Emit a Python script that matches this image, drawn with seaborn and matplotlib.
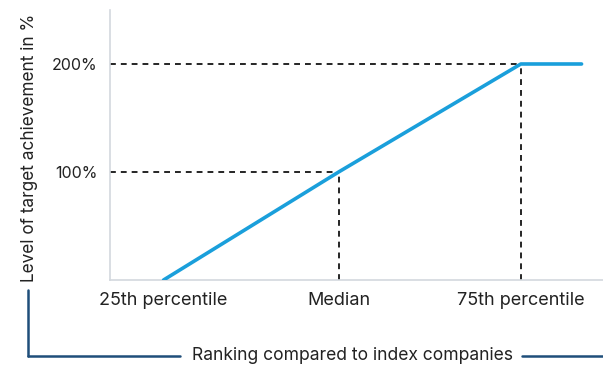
import numpy as np
import pandas as pd
import matplotlib
matplotlib.use("Agg")
import matplotlib.pyplot as plt
import seaborn as sns

# posizioni: 0 = 25th percentile, ~1 = Median, 2 = 75th percentile
rank_pos = [0.0, 0.98, 2.0, 2.34]
achievement = [0, 100, 200, 200]
tick_pos = [0.0, 0.98, 2.0]
tick_labels = ["25th percentile", "Median", "75th percentile"]
y_ticks = [100, 200]
y_tick_labels = ["100%", "200%"]

sns.set_theme(style="white")
plt.rcParams["font.family"] = ["Inter", "DejaVu Sans"]

df = pd.DataFrame({"rank": rank_pos, "achievement": achievement})

fig = plt.figure(figsize=(6.03, 3.66), dpi=100)
ax = fig.add_axes([0.1824, 0.235, 0.8176, 0.7377])

# linee tratteggiate di riferimento
for xv, yv in [(rank_pos[1], 100), (rank_pos[2], 200)]:
    ax.plot([-0.3, xv], [yv, yv], ls=(0, (3.5, 3)), color="black", lw=1.2, zorder=1)
    ax.plot([xv, xv], [0, yv], ls=(0, (3.5, 3)), color="black", lw=1.2, zorder=1)

sns.lineplot(data=df, x="rank", y="achievement", ax=ax, color="#1a9fdb",
             linewidth=2.6, zorder=3)

ax.set_xlim(-0.30, 2.46)
ax.set_ylim(0, 250)
ax.set_xticks(tick_pos)
ax.set_xticklabels(tick_labels, fontsize=13, color="#222222")
ax.set_yticks(y_ticks)
ax.set_yticklabels(y_tick_labels, fontsize=11.5, color="#222222")
ax.tick_params(axis="x", length=0, pad=9)
ax.tick_params(axis="y", length=0, pad=9)
ax.set_xlabel("")
ax.set_ylabel("")

for s in ["top", "right"]:
    ax.spines[s].set_visible(False)
for s in ["left", "bottom"]:
    ax.spines[s].set_color("#d3d8de")
    ax.spines[s].set_linewidth(1.2)

# etichetta asse y
fig.text(30 / 603, 1 - 148 / 366, "Level of target achievement in %", rotation=90,
         ha="center", va="center", fontsize=12.4, color="#222222")

# parentesi in basso
navy = "#1f4e7a"
yb = 1 - 356 / 366
fig.add_artist(plt.Line2D([28 / 603, 28 / 603], [1 - 290 / 366, yb], color=navy, lw=1.8))
fig.add_artist(plt.Line2D([28 / 603, 180 / 603], [yb, yb], color=navy, lw=1.8))
fig.add_artist(plt.Line2D([522 / 603, 1.0], [yb, yb], color=navy, lw=1.8))
fig.text(352 / 603, yb, "Ranking compared to index companies", ha="center", va="center",
         fontsize=12.6, color="#222222")

fig.savefig("out.png", dpi=100)
